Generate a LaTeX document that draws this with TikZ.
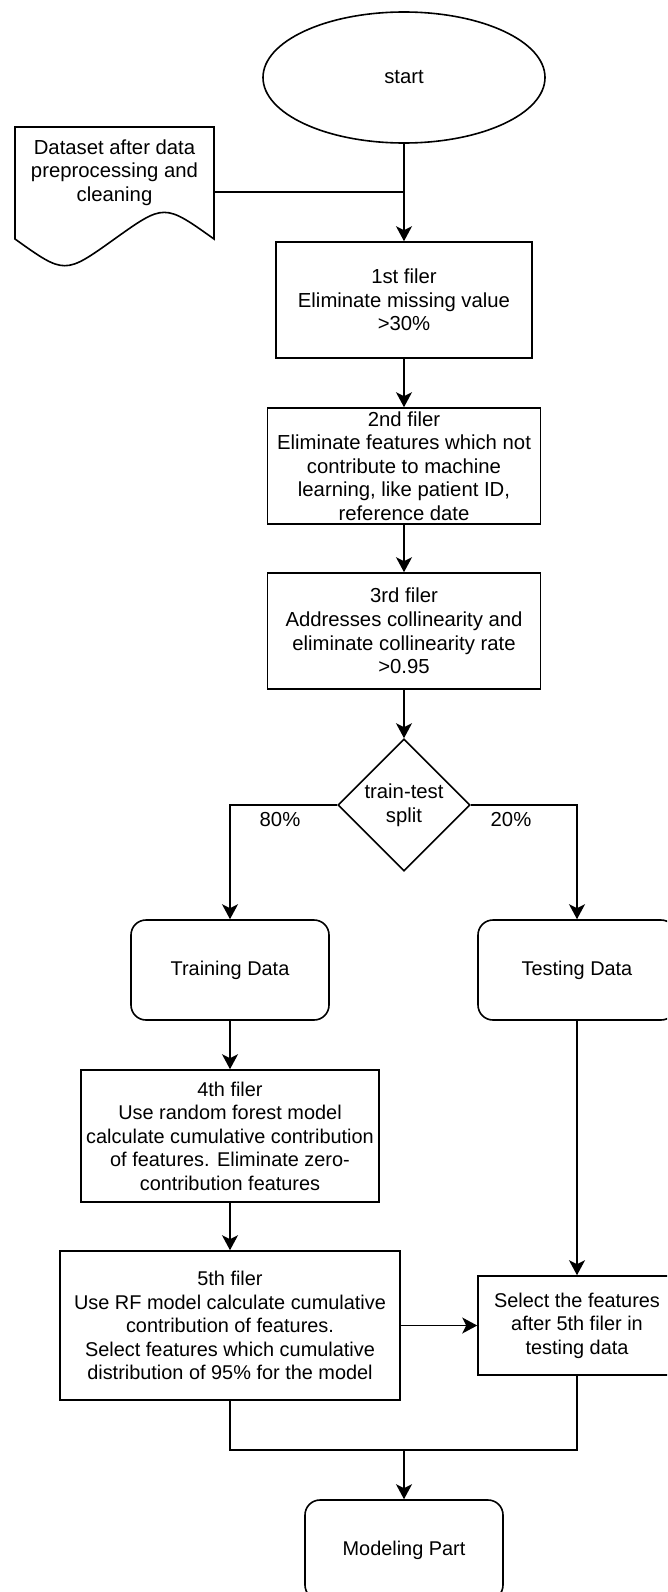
\documentclass[tikz,border=0pt]{standalone}
\usepackage{fontspec}
\setmainfont{Liberation Sans}
\usetikzlibrary{shapes.geometric,arrows.meta}
\tikzset{
  base/.style={font=\fontsize{19.9}{23.5}\selectfont, align=center, inner sep=0pt},
  upper/.style={font=\fontsize{20.3}{23.6}\selectfont},
  box/.style={base, draw, line width=1.6pt, rectangle},
  rbox/.style={box, rounded corners=15pt, minimum width=198pt, minimum height=100pt},
  ln/.style={line width=1.6pt},
  arr/.style={ln, -{Stealth[length=15pt,width=16pt,inset=4pt]}},
}
\begin{document}
\begin{tikzpicture}[x=1pt,y=-1pt]
\useasboundingbox (0,0) rectangle (667,1592);
\clip (0,0) rectangle (667,1592);
\fill[white] (0,0) rectangle (667,1592);

% start
\node[base, upper, draw, line width=1.6pt, ellipse, minimum width=282pt, minimum height=131pt] (start) at (404,77.5) {start};

% document shape
\draw[ln] (15,127) -- (214,127) -- (214,239) .. controls (164.25,203.5) .. (114.5,239) .. controls (64.75,274.6) .. (15,239) -- cycle;
\node[base, upper] (doc) at (114.5,172.5) {Dataset after data\\preprocessing and\\cleaning};
\coordinate (docR) at (214,192);

% filters
\node[box, upper, minimum width=256pt, minimum height=116pt] (f1) at (404,300) {1st filer\\Eliminate missing value\\>30\%};
\node[box, upper, minimum width=273pt, minimum height=116pt] (f2) at (404,466) {2nd filer\\Eliminate features which not\\contribute to machine\\learning, like patient ID,\\reference date};
\node[box, upper, minimum width=273pt, minimum height=116pt] (f3) at (404,631) {3rd filer\\Addresses collinearity and\\eliminate collinearity rate\\>0.95};
\node[base, upper, draw, line width=1.6pt, diamond, minimum width=132pt, minimum height=132pt] (split) at (404,805) {train-test\\split};

\node[rbox] (train) at (230,970) {Training Data};
\node[rbox] (test) at (577,970) {Testing Data};

\node[box, minimum width=298pt, minimum height=132pt] (f4) at (230,1136) {4th filer\\Use random forest model\\calculate cumulative contribution\\of features. Eliminate zero-\\contribution features};
\node[box, minimum width=340pt, minimum height=149pt] (f5) at (230,1325.5) {5th filer\\Use RF model calculate cumulative\\contribution of features.\\Select features which cumulative\\distribution of 95\% for the model};
\node[box, minimum width=198pt, minimum height=99pt] (sel) at (577,1325.5) {Select the features\\after 5th filer in\\testing data};

\node[rbox] (model) at (404,1550) {Modeling Part};
\coordinate (j) at (404,1450);

% connectors
\draw[arr] (start) -- (f1);
\draw[ln] (docR) -- (docR -| f1.north);
\draw[arr] (f1) -- (f2);
\draw[arr] (f2) -- (f3);
\draw[arr] (f3) -- (split);
\draw[arr] (split.west) -| (train.north);
\draw[arr] (split.east) -| (test.north);
\node[base, upper] (p80) at (280,820) {80\%};
\node[base, upper] (p20) at (511,820) {20\%};
\draw[arr] (train) -- (f4);
\draw[arr] (f4) -- (f5);
\draw[arr] (test) -- (sel);
\draw[arr] (f5) -- (sel);
\draw[ln] (f5.south) |- (j);
\draw[ln] (sel.south) |- (j);
\draw[arr] (j) -- (model.north);
\end{tikzpicture}
\end{document}
